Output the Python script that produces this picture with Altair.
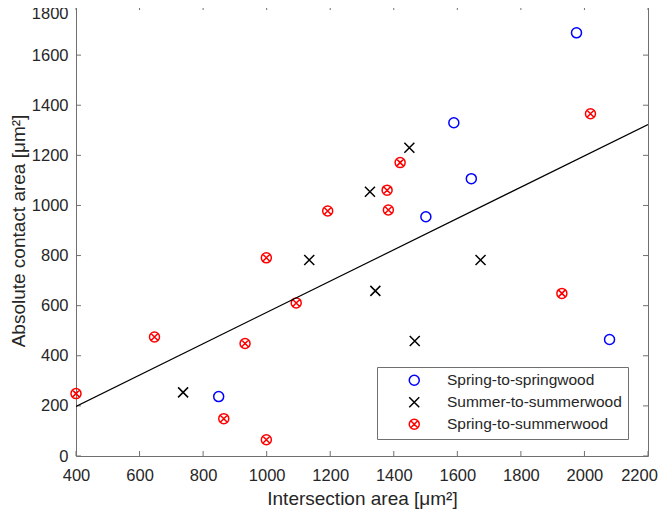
import altair as alt
import pandas as pd

# ---- data ----
groups = ["Spring-to-springwood", "Summer-to-summerwood", "Spring-to-summerwood"]

spring_x = [849, 1501, 1589, 1644, 1975, 2079]
spring_y = [237, 955, 1330, 1107, 1689, 465]

summer_x = [737, 1134, 1325, 1342, 1449, 1466, 1673]
summer_y = [254, 782, 1055, 659, 1230, 459, 782]

mixed_x = [400, 647, 865, 932, 999, 999, 1093, 1192, 1379, 1383, 1420, 1929, 2019]
mixed_y = [249, 475, 149, 449, 791, 65, 611, 978, 1061, 982, 1171, 649, 1366]

fit_x = [400, 2200]
fit_y = [198, 1323]

x_ticks = [400, 600, 800, 1000, 1200, 1400, 1600, 1800, 2000, 2200]
y_ticks = [0, 200, 400, 600, 800, 1000, 1200, 1400, 1600, 1800]

W, H = 572, 451
FONT = "Liberation Sans"
TXT = "#262626"
AX = "#707070"

pts = pd.DataFrame({
    "x": spring_x + summer_x + mixed_x,
    "y": spring_y + summer_y + mixed_y,
    "g": [groups[0]] * len(spring_x) + [groups[1]] * len(summer_x) + [groups[2]] * len(mixed_x),
})
fit = pd.DataFrame({"x": fit_x, "y": fit_y})
xt = pd.DataFrame({"x": x_ticks})
yt = pd.DataFrame({"y": y_ticks})

xscale = alt.Scale(domain=[400, 2200], nice=False, zero=False)
yscale = alt.Scale(domain=[0, 1800], nice=False, zero=False)
xaxis = alt.Axis(values=x_ticks, format="d", ticks=False, domain=False, grid=False,
                 labelFontSize=16.5, labelColor=TXT, labelFont=FONT, labelPadding=11,
                 labelFlush=False, labelOverlap=False,
                 labelOffset={"condition": {"test": "datum.value == 2200", "value": -9}, "value": 0},
                 title="Intersection area [μm²]", titleFontSize=19, titleFont=FONT,
                 titleColor=TXT, titleFontWeight="normal", titlePadding=6)
yaxis = alt.Axis(values=y_ticks, format="d", ticks=False, domain=False, grid=False,
                 labelFontSize=16.5, labelColor=TXT, labelFont=FONT, labelPadding=8,
                 labelFlush=False, labelOverlap=False,
                 labelOffset={"condition": {"test": "datum.value == 1800", "value": 8}, "value": 0},
                 title="Absolute contact area [μm²]", titleFontSize=19, titleFont=FONT,
                 titleColor=TXT, titleFontWeight="normal", titlePadding=3)

X = lambda: alt.X("x:Q", scale=xscale, axis=xaxis)
Y = lambda: alt.Y("y:Q", scale=yscale, axis=yaxis)

x_path = "M -1 -1 L 1 1 M -1 1 L 1 -1"
ox_path = ("M -1 0 A 1 1 0 1 1 1 0 A 1 1 0 1 1 -1 0 Z "
           "M -0.7 -0.7 L 0.7 0.7 M -0.7 0.7 L 0.7 -0.7")

leg = alt.Legend(title=None, orient="none", legendX=301, legendY=362,
                 labelFont=FONT, labelFontSize=15.5, labelColor=TXT, labelLimit=400,
                 symbolSize=100, symbolStrokeWidth=1.5, symbolOffset=24,
                 labelOffset=25, padding=5.5, rowPadding=4,
                 strokeColor=AX, fillColor="white")

points = alt.Chart(pts).mark_point(filled=False, size=100, strokeWidth=1.5, opacity=1).encode(
    x=X(), y=Y(),
    color=alt.Color("g:N", scale=alt.Scale(domain=groups, range=["#0000ff", "#000000", "#ff0000"]),
                    legend=leg),
    shape=alt.Shape("g:N", scale=alt.Scale(domain=groups, range=["circle", x_path, ox_path]),
                    legend=leg),
)

line = alt.Chart(fit).mark_line(color="black", strokeWidth=1.2, clip=True).encode(x=X(), y=Y())

tb = alt.Chart(xt).mark_rule(color=AX, strokeWidth=1).encode(x=X(), y=alt.value(H), y2=alt.value(H - 5))
tt = alt.Chart(xt).mark_rule(color=AX, strokeWidth=1).encode(x=X(), y=alt.value(0), y2=alt.value(5))
tl = alt.Chart(yt).mark_rule(color=AX, strokeWidth=1).encode(y=Y(), x=alt.value(0), x2=alt.value(5))
tr = alt.Chart(yt).mark_rule(color=AX, strokeWidth=1).encode(y=Y(), x=alt.value(W), x2=alt.value(W - 5))

chart = alt.layer(tb, tt, tl, tr, points, line).properties(
    width=W, height=H,
    autosize=alt.AutoSizeParams(type="none"),
    padding={"left": 68, "top": -3, "right": 10, "bottom": 53},
    background="white",
).configure_view(stroke=AX, strokeWidth=1)

chart.save("out.html", embed_options={"renderer": "svg", "actions": False})
